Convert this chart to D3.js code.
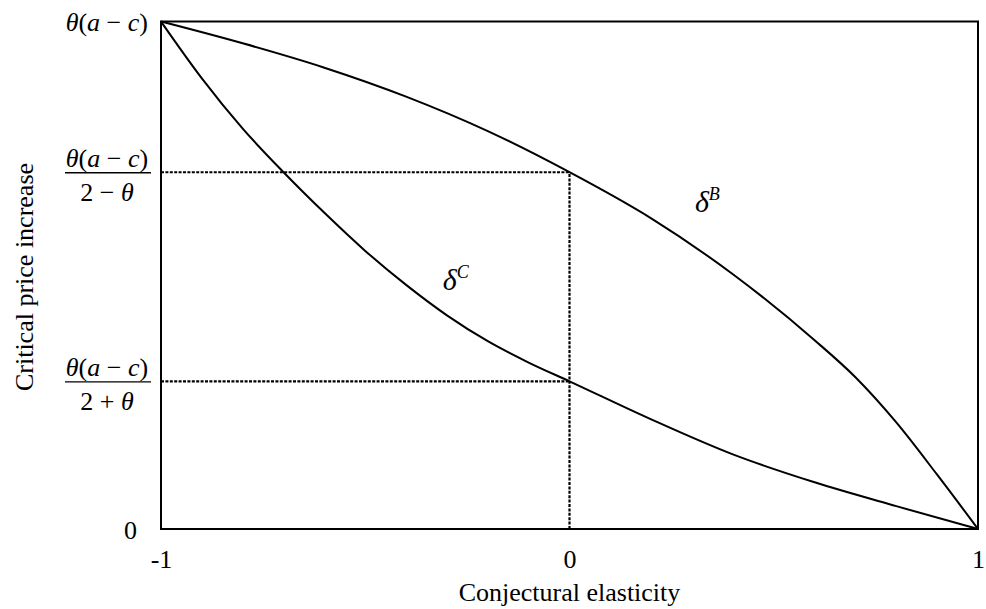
<!DOCTYPE html>
<html lang="en">
<head>
<meta charset="UTF-8">
<script src="https://cdn.jsdelivr.net/npm/d3@7"></script>
<title>Critical price increase</title>
<style>
    body { margin: 0; background: #fff; }
    text { font-family: "Liberation Serif", "Times New Roman", serif; fill: #000; }
</style>
</head>
<body>
<script>
    // ---- data ----
    // delta^B curve: conjectural elasticity vs critical price increase (share of theta(a-c))
    const xB = [-1, -0.8, -0.6, -0.4, -0.2, 0, 0.2, 0.4, 0.6, 0.7, 0.8, 0.9, 1];
    const deltaB = [1, 0.957, 0.909, 0.852, 0.784, 0.703, 0.612, 0.502, 0.372, 0.299, 0.210, 0.107, 0];
    // delta^C curve
    const xC = [-1, -0.9, -0.8, -0.7, -0.6, -0.5, -0.4, -0.3, -0.2, -0.1, 0, 0.2, 0.4, 0.6, 0.8, 1];
    const deltaC = [1, 0.888, 0.789, 0.703, 0.623, 0.548, 0.481, 0.421, 0.370, 0.328, 0.291, 0.216, 0.147, 0.092, 0.045, 0];
    // reference levels at elasticity 0
    const levelB = 0.703, levelC = 0.291;
    const xTicks = [-1, 0, 1];
    const yTicks = [0, levelC, levelB, 1];

    const width = 986, height = 609;
    const svg = d3.select("body").append("svg")
        .attr("width", width)
        .attr("height", height);

    const x = d3.scaleLinear().domain([-1, 1]).range([161, 978]);
    const y = d3.scaleLinear().domain([0, 1]).range([529, 21.5]);

    // ---- dotted guide lines ----
    const guides = svg.append("g")
        .attr("stroke", "#000")
        .attr("stroke-width", 2.2)
        .attr("stroke-dasharray", "3,1.4")
        .attr("fill", "none");
    [levelB, levelC].forEach(v => {
        guides.append("line")
            .attr("x1", x(-1)).attr("x2", x(0))
            .attr("y1", y(v)).attr("y2", y(v));
    });
    guides.append("line")
        .attr("x1", x(0)).attr("x2", x(0))
        .attr("y1", y(0)).attr("y2", y(levelB));

    // ---- curves ----
    const line = d3.line()
        .x(d => x(d[0]))
        .y(d => y(d[1]))
        .curve(d3.curveMonotoneX);

    svg.append("path")
        .datum(d3.zip(xB, deltaB))
        .attr("d", line)
        .attr("fill", "none")
        .attr("stroke", "#000")
        .attr("stroke-width", 2);

    svg.append("path")
        .datum(d3.zip(xC, deltaC))
        .attr("d", line)
        .attr("fill", "none")
        .attr("stroke", "#000")
        .attr("stroke-width", 2);

    // ---- frame ----
    svg.append("rect")
        .attr("x", x(-1)).attr("y", y(1))
        .attr("width", x(1) - x(-1))
        .attr("height", y(0) - y(1))
        .attr("fill", "none")
        .attr("stroke", "#000")
        .attr("stroke-width", 2);

    // ---- x axis ----
    const xAxis = svg.append("g")
        .attr("transform", `translate(0,${y(0)})`)
        .call(d3.axisBottom(x).tickValues(xTicks).tickSize(0).tickPadding(20.5)
            .tickFormat(d => String(d)));
    xAxis.select(".domain").remove();
    xAxis.selectAll("text")
        .style("font-family", '"Liberation Serif", "Times New Roman", serif')
        .style("font-size", "26px");

    // ---- y axis (custom math labels) ----
    const yAxis = svg.append("g")
        .attr("transform", `translate(${x(-1)},0)`)
        .call(d3.axisLeft(y).tickValues(yTicks).tickSize(0).tickFormat(""));
    yAxis.select(".domain").remove();
    yAxis.selectAll("text").remove();

    const num = t => {
        t.attr("xml:space", "preserve");
        t.append("tspan").attr("font-style", "italic").text("θ");
        t.append("tspan").text("(");
        t.append("tspan").attr("font-style", "italic").text("a");
        t.append("tspan").text(" − ");
        t.append("tspan").attr("font-style", "italic").text("c");
        t.append("tspan").text(")");
    };

    yAxis.selectAll(".tick").each(function(d) {
        const g = d3.select(this);
        if (d === 0) {
            g.append("text").attr("x", -24).attr("y", 9)
                .attr("text-anchor", "end").style("font-size", "26px").text("0");
        } else if (d === 1) {
            g.append("text").attr("x", -13).attr("y", 8.5)
                .attr("text-anchor", "end").style("font-size", "26px")
                .call(num);
        } else {
            const cx = -54;
            g.append("text").attr("x", cx).attr("y", -6)
                .attr("text-anchor", "middle").style("font-size", "26px")
                .call(num);
            g.append("line")
                .attr("x1", -96).attr("x2", -10)
                .attr("y1", 0).attr("y2", 0)
                .attr("stroke", "#000").attr("stroke-width", 1.3);
            const den = g.append("text").attr("x", cx).attr("y", 28)
                .attr("xml:space", "preserve")
                .attr("text-anchor", "middle").style("font-size", "26px");
            den.append("tspan").text(d === levelB ? "2 − " : "2 + ");
            den.append("tspan").attr("font-style", "italic").text("θ");
        }
    });

    // ---- curve labels ----
    const curveLabel = (px, py, sup) => {
        const t = svg.append("text").attr("x", px).attr("y", py).style("font-size", "30px");
        t.append("tspan").attr("font-style", "italic").text("δ");
        t.append("tspan").attr("font-style", "italic").attr("dy", -12)
            .style("font-size", "18px").text(sup);
    };
    curveLabel(x(-0.31), y(0.471), "C");
    curveLabel(x(0.307), y(0.624), "B");

    // ---- axis titles ----
    svg.append("text")
        .attr("x", x(0)).attr("y", 601)
        .attr("text-anchor", "middle")
        .style("font-size", "26px")
        .text("Conjectural elasticity");

    svg.append("text")
        .attr("transform", "translate(33,277) rotate(-90)")
        .attr("text-anchor", "middle")
        .style("font-size", "26px")
        .text("Critical price increase");
</script>
</body>
</html>
